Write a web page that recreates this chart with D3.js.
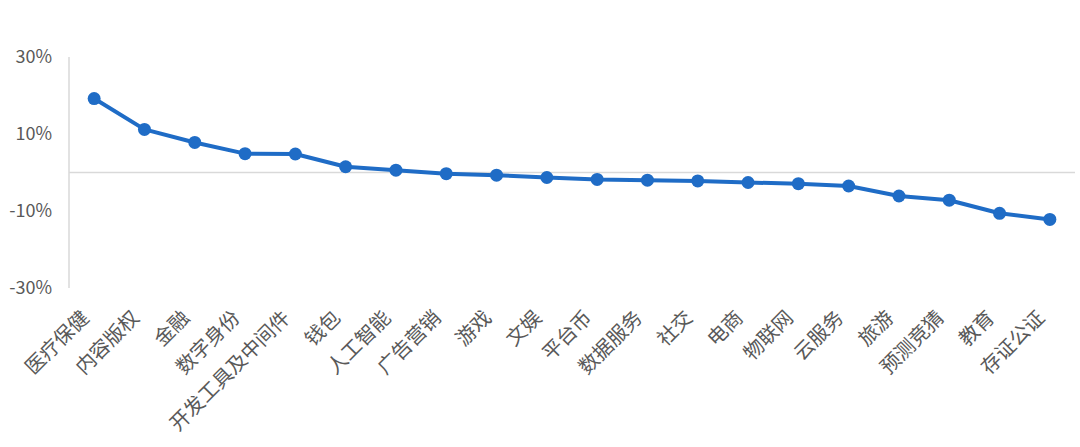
<!DOCTYPE html>
<html><head><meta charset="utf-8">
<script src="https://cdn.jsdelivr.net/npm/d3@7"></script>
<style>
html,body{margin:0;padding:0;background:#fff;}
svg text{font-family:"Noto Sans CJK SC","Noto Sans",sans-serif;fill:#595959;}
</style></head>
<body><svg id="c" width="1080" height="447"></svg>
<script>
const categories = ["医疗保健","内容版权","金融","数字身份","开发工具及中间件","钱包","人工智能","广告营销","游戏","文娱","平台币","数据服务","社交","电商","物联网","云服务","旅游","预测竞猜","教育","存证公证"];
const values = [19.2,11.2,7.8,4.9,4.8,1.5,0.6,-0.3,-0.7,-1.3,-1.8,-2.0,-2.2,-2.6,-2.9,-3.5,-6.1,-7.2,-10.6,-12.2];
const yTicks = [-30,-10,10,30];

const svg = d3.select("#c");
const x = d3.scaleBand().domain(categories).range([69,1075]).padding(0);
const y = d3.scaleLinear().domain([-30,30]).range([288,57]);
const cx = d => x(d) + x.bandwidth()/2;

// vertical axis line
svg.append("line").attr("x1",69).attr("x2",69).attr("y1",y(30)).attr("y2",y(-30))
  .attr("stroke","#d9d9d9").attr("stroke-width",1.5);
// zero line
svg.append("line").attr("x1",69).attr("x2",1075).attr("y1",y(0)).attr("y2",y(0))
  .attr("stroke","#d9d9d9").attr("stroke-width",1.5);

// y labels
const yAxis = d3.axisLeft(y).tickValues(yTicks).tickSize(0).tickPadding(0).tickFormat(d => d + "%");
const ga = svg.append("g").attr("transform","translate(52,0)").call(yAxis);
ga.select(".domain").remove();
ga.selectAll("text").attr("font-size",18).attr("fill","#595959")
  .style("font-family",'"Noto Sans CJK SC","Noto Sans",sans-serif');

// line
const line = d3.line().x((d,i)=>cx(categories[i])).y(d=>y(d));
svg.append("path").datum(values).attr("d",line).attr("fill","none")
  .attr("stroke","#1f6cc6").attr("stroke-width",4).attr("stroke-linejoin","round");
svg.selectAll("circle.pt").data(values).enter().append("circle").attr("class","pt")
  .attr("cx",(d,i)=>cx(categories[i])).attr("cy",d=>y(d)).attr("r",6.5).attr("fill","#1f6cc6");

// x labels
svg.selectAll("text.xl").data(categories).enter().append("text").attr("class","xl")
  .attr("text-anchor","end").attr("font-size",20)
  .attr("transform",d=>`translate(${cx(d)-4},${319}) rotate(-45)`)
  .text(d=>d);
</script></body></html>
